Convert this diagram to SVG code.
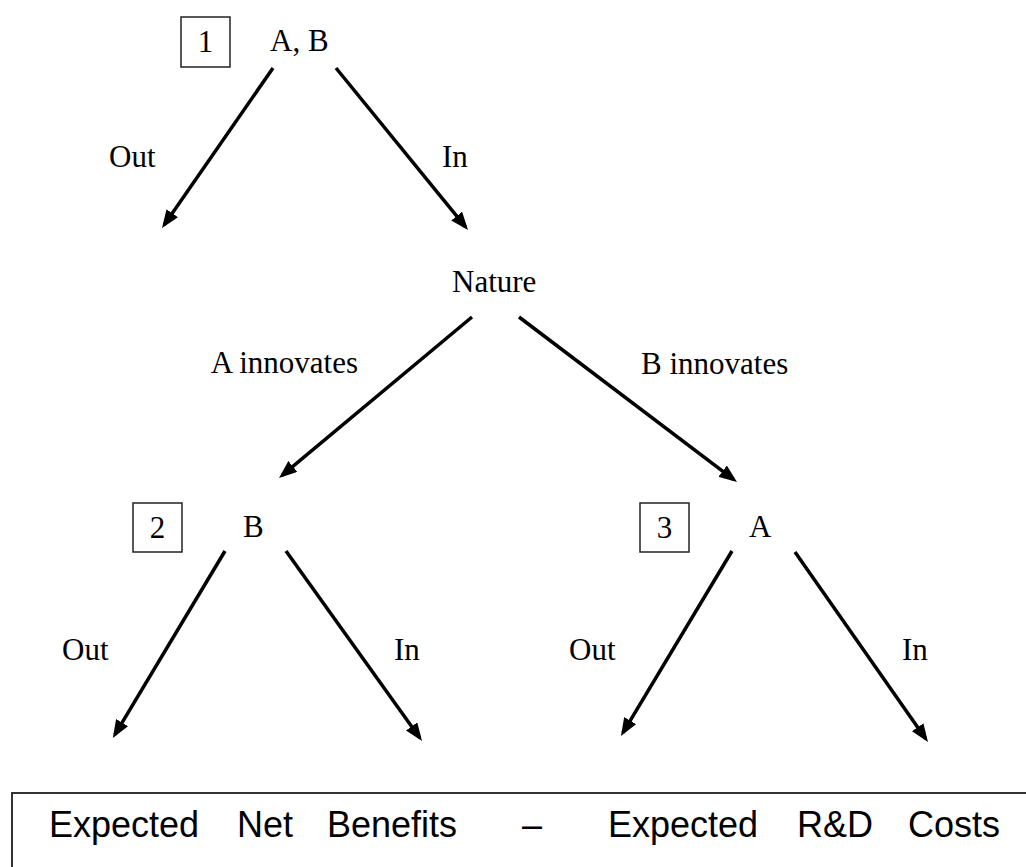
<svg xmlns="http://www.w3.org/2000/svg" width="1026" height="867" viewBox="0 0 1026 867">
  <style>
    .lbl { font-family: "Liberation Serif", "Times New Roman", serif; font-size: 31px; fill: #000; }
    .num { font-family: "Liberation Serif", "Times New Roman", serif; font-size: 31px; fill: #000; text-anchor: middle; }
    .numbox { fill: #fff; stroke: #222; stroke-width: 1.5; }
    .edge { stroke: #000; stroke-width: 3.5; fill: none; marker-end: url(#arrow); }
    .bottom { font-family: "Liberation Sans", Arial, sans-serif; font-size: 36px; fill: #000; }
  </style>
  <defs>
    <marker id="arrow" viewBox="0 0 18 14" refX="14" refY="7" markerWidth="18" markerHeight="14" markerUnits="userSpaceOnUse" orient="auto">
      <path d="M0,0 L18,7 L0,14 Z" fill="#000"/>
    </marker>
  </defs>
  <rect width="1026" height="867" fill="#fff"/>

  <g id="connectors">
    <line class="edge" x1="273" y1="68" x2="164.3" y2="224.7"/>
    <line class="edge" x1="336" y1="68" x2="465.5" y2="226.9"/>
    <line class="edge" x1="472" y1="317" x2="282.1" y2="475.4"/>
    <line class="edge" x1="519" y1="317" x2="733.8" y2="479.6"/>
    <line class="edge" x1="225" y1="551" x2="114.9" y2="734.6"/>
    <line class="edge" x1="286" y1="551" x2="419.7" y2="737.8"/>
    <line class="edge" x1="732" y1="551" x2="623.0" y2="732.6"/>
    <line class="edge" x1="795" y1="552" x2="925.7" y2="738.7"/>
  </g>

  <g id="edge-labels">
    <text class="lbl" x="109" y="167">Out</text>
    <text class="lbl" x="442" y="167">In</text>
    <text class="lbl" x="358" y="373" text-anchor="end">A innovates</text>
    <text class="lbl" x="641" y="374">B innovates</text>
    <text class="lbl" x="62" y="660">Out</text>
    <text class="lbl" x="394" y="660">In</text>
    <text class="lbl" x="569" y="660">Out</text>
    <text class="lbl" x="902" y="660">In</text>
  </g>

  <g id="node1">
    <rect class="numbox" x="181" y="17" width="49" height="50"/>
    <text class="num" x="205.5" y="52">1</text>
    <text class="lbl" x="270" y="51">A, B</text>
  </g>

  <g id="nature">
    <text class="lbl" x="452" y="292">Nature</text>
  </g>

  <g id="node2">
    <rect class="numbox" x="133" y="503" width="49" height="49"/>
    <text class="num" x="157.5" y="538">2</text>
    <text class="lbl" x="243" y="537">B</text>
  </g>

  <g id="node3">
    <rect class="numbox" x="640" y="503" width="49" height="49"/>
    <text class="num" x="664.5" y="538">3</text>
    <text class="lbl" x="749" y="537">A</text>
  </g>

  <g id="payoff">
    <rect x="12" y="793" width="1030" height="90" fill="#fff" stroke="#333" stroke-width="2"/>
    <text class="bottom" x="49" y="837">Expected</text>
    <text class="bottom" x="237" y="837">Net</text>
    <text class="bottom" x="327" y="837">Benefits</text>
    <text class="bottom" x="522" y="837">–</text>
    <text class="bottom" x="608" y="837">Expected</text>
    <text class="bottom" x="797" y="837">R&amp;D</text>
    <text class="bottom" x="908" y="837">Costs</text>
  </g>
</svg>
